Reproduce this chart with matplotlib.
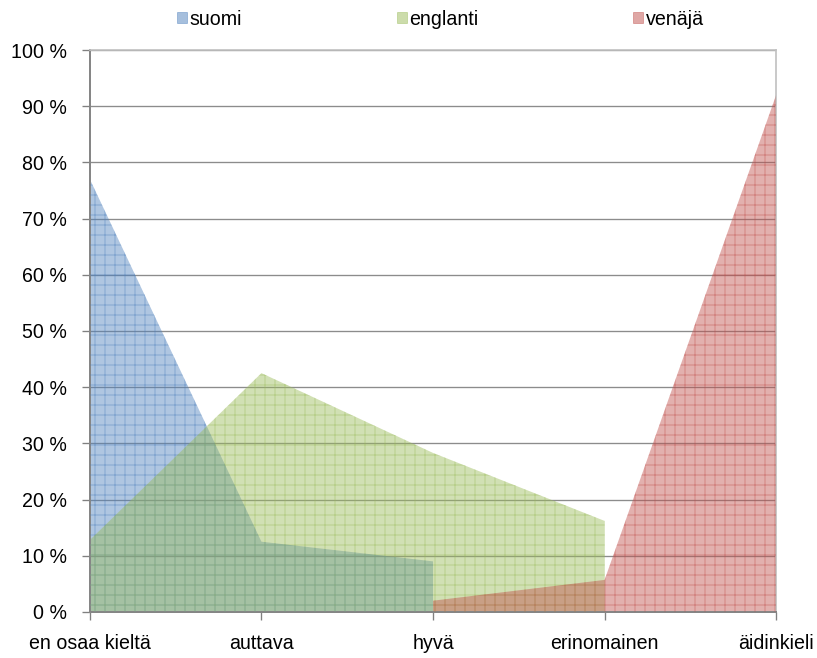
import numpy as np
import matplotlib.pyplot as plt
from matplotlib.patches import Patch

plt.rcParams['font.family'] = ['Liberation Sans', 'DejaVu Sans']
plt.rcParams['hatch.linewidth'] = 0.6

categories = ["en osaa kieltä", "auttava", "hyvä", "erinomainen", "äidinkieli"]
series_names = ["suomi", "englanti", "venäjä"]
suomi = [77, 12.5, 9, np.nan, np.nan]
englanti = [12.8, 42.5, 28.3, 16.2, np.nan]
venaja = [np.nan, np.nan, 2.0, 5.7, 92]
colors = ["#4F81BD", "#9BBB59", "#C0504D"]

fig = plt.figure(figsize=(817/120, 658/120), dpi=120)
ax = fig.add_axes([0.110, 0.070, 0.840, 0.854])

x = np.arange(len(categories))
for name, vals, c in zip(series_names, [suomi, englanti, venaja], colors):
    y = np.array(vals, dtype=float)
    ax.fill_between(x, 0, y, facecolor=c, alpha=0.45, linewidth=0, zorder=2)
    ax.fill_between(x, 0, y, facecolor='none', edgecolor=(c, 0.45), hatch='++',
                    linewidth=0, zorder=3)

ax.set_xlim(0, len(categories) - 1)
ax.set_ylim(0, 100)
ax.set_yticks(np.arange(0, 101, 10))
ax.set_yticklabels([f"{v} %" for v in range(0, 101, 10)])
ax.set_xticks(x)
ax.set_xticklabels(categories)
ax.grid(axis='y', color='#8c8c8c', linewidth=0.8, zorder=1)
ax.set_axisbelow(True)

ax.tick_params(axis='both', labelsize=11.8, colors='#808080', labelcolor='black',
               direction='out', length=5, width=0.8)
ax.tick_params(axis='x', pad=8)
ax.tick_params(axis='y', pad=8.5)
for s in ['left', 'bottom']:
    ax.spines[s].set_color('#868686')
    ax.spines[s].set_linewidth(1.2)
for s in ['top', 'right']:
    ax.spines[s].set_color('#c0c0c0')
    ax.spines[s].set_linewidth(1.0)

handles = [Patch(facecolor=c, alpha=0.5, edgecolor=c, linewidth=0.5) for c in colors]
ax.legend(handles, series_names, loc='lower center', bbox_to_anchor=(0.511, 1.024),
          ncol=3, frameon=False, fontsize=11.8, handlelength=0.5, handleheight=0.5,
          handletextpad=0.15, columnspacing=7.85, borderaxespad=0)

fig.savefig("out.png", dpi=120)
